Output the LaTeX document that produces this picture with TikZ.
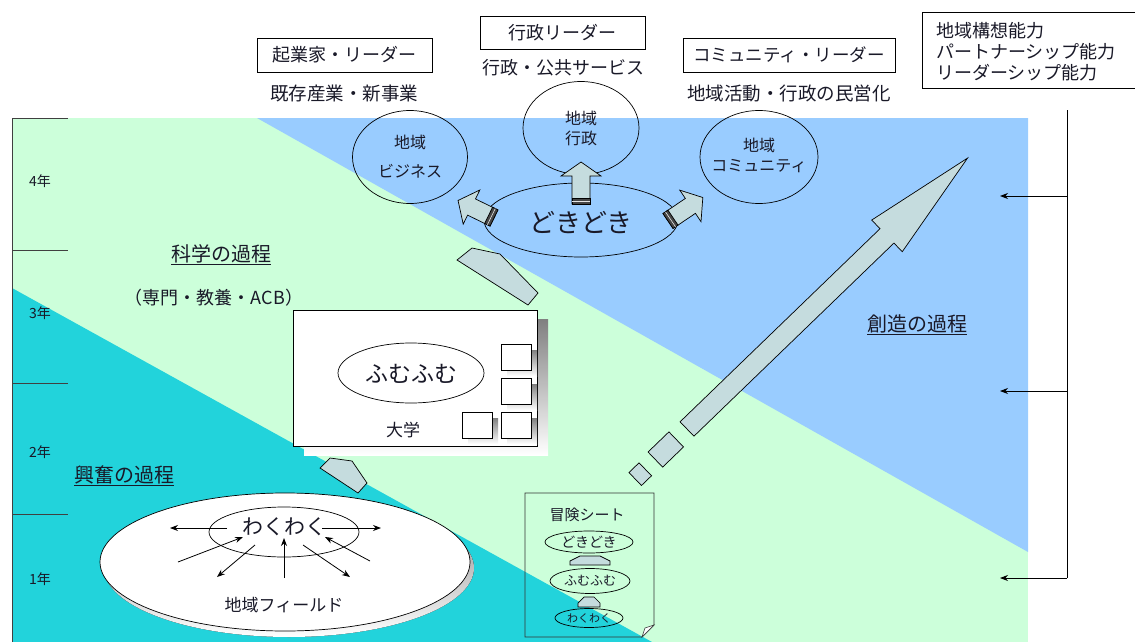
\documentclass[tikz,border=0pt]{standalone}
\usepackage{fontspec}
\setmainfont{Noto Sans CJK JP}
\usetikzlibrary{arrows.meta,shapes.geometric}
\definecolor{mint}{RGB}{204,255,218}
\definecolor{sky}{RGB}{153,204,255}
\definecolor{aqua}{RGB}{34,211,219}
\definecolor{blockfill}{RGB}{197,220,222}
\definecolor{shade}{RGB}{170,170,170}
\definecolor{ink}{RGB}{25,25,40}
\definecolor{band}{RGB}{70,70,70}
\newcommand{\fsz}[2]{\fontsize{#1}{#2}\selectfont}
\newcommand{\blockarrow}[7]{%
  \begin{scope}[shift={(#1,#2)},rotate=#3]
    \filldraw[blk] (0,-#5) -- ({#4-#7},-#5) -- ({#4-#7},-#6) -- (#4,0) -- ({#4-#7},#6) -- ({#4-#7},#5) -- (0,#5) -- cycle;
  \end{scope}}
\newcommand{\bandarrow}[7]{%
  \blockarrow{#1}{#2}{#3}{#4}{#5}{#6}{#7}
  \begin{scope}[shift={(#1,#2)},rotate=#3]
    \filldraw[fill=band,draw=black,line width=0.7pt] (0,-#5) rectangle (6,#5);
    \draw[white!80!gray,line width=0.6pt] (3,-#5) -- (3,#5);
  \end{scope}}
\tikzset{
  lbl/.style={text=ink, inner sep=0pt},
  hbox/.style={draw=black, line width=0.8pt, fill=white, inner sep=0pt, text=ink},
  oval/.style={draw=black, ellipse, line width=0.7pt, inner sep=0pt},
  blk/.style={fill=blockfill, draw=black, line width=0.7pt, line join=miter},
  thinarrow/.style={-{Stealth[length=8pt,width=6pt]}, line width=0.8pt},
  axisline/.style={draw=black!75, line width=0.9pt},
}
\begin{document}
\begin{tikzpicture}[x=1pt,y=-1pt]
\useasboundingbox (0,0) rectangle (1135,642);
% backgrounds
\fill[mint] (12,118) rectangle (1028,642);
\fill[sky] (257,118) -- (1028,118) -- (1028,552) -- cycle;
\fill[aqua] (12,288) -- (652,642) -- (12,642) -- cycle;
% axis
\coordinate (ax0) at (12,118);
\coordinate (ax1) at (12,642);
\draw[axisline] (ax0) -- (ax1);
\foreach \yy in {118,250,383,514} \draw[axisline] (12,\yy) -- (68,\yy);
\node[lbl, font=\fsz{14}{16}] (y4) at (40,181) {4年};
\node[lbl, font=\fsz{14}{16}] (y3) at (40,313) {3年};
\node[lbl, font=\fsz{14}{16}] (y2) at (40,452) {2年};
\node[lbl, font=\fsz{14}{16}] (y1) at (40,579) {1年};
% top boxes
\node[hbox, minimum width=175, minimum height=34, font=\fsz{18}{20}] (kigyo) at (344.5,55) {起業家・リーダー};
\node[lbl, font=\fsz{18.5}{20}] (kizon) at (344,93) {既存産業・新事業};
\node[hbox, minimum width=165, minimum height=33, font=\fsz{18}{20}] (gyosei) at (562.5,32.5) {行政リーダー};
\node[lbl, font=\fsz{18}{20}] (kokyo) at (563,68) {行政・公共サービス};
\node[hbox, minimum width=212, minimum height=34, font=\fsz{17.5}{20}] (comm) at (789,55) {コミュニティ・リーダー};
\node[lbl, font=\fsz{18.5}{20}] (minei) at (789,93) {地域活動・行政の民営化};
\node[hbox, minimum width=214, minimum height=76, anchor=north west] (cap) at (922,12) {};
\node[lbl, font=\fsz{18}{21}, align=left, anchor=west] (captext) at (936,52) {地域構想能力\\パートナーシップ能力\\リーダーシップ能力};
% circles
\node[oval, minimum width=115, minimum height=93] (biz) at (410,157) {};
\node[lbl, font=\fsz{16}{18}] at (410,142) {地域};
\node[lbl, font=\fsz{16}{18}] at (410,171) {ビジネス};
\node[oval, minimum width=116, minimum height=93] (gov) at (581,128) {};
\node[lbl, font=\fsz{16}{18}, align=center] at (581,128) {地域\\[2pt]行政};
\node[oval, minimum width=118, minimum height=93] (com) at (759,157) {};
\node[lbl, font=\fsz{16}{18}, align=center] at (759,155) {地域\\[2pt]コミュニティ};
\node[oval, minimum width=194, minimum height=74] (doki) at (581,220) {};
\node[lbl, font=\fsz{26}{30}] at (581,223) {どきどき};
% arrows from dokidoki
\bandarrow{581}{204}{90}{42}{9}{20}{14}
\bandarrow{494}{218}{154}{40}{9}{19}{15}
\bandarrow{668}{221}{34}{42}{9}{19}{15}
% connector pentagons
\filldraw[blk] (457,260) -- (472,248) -- (500,254) -- (538,293) -- (528,305) -- cycle;
\filldraw[blk] (320,468) -- (330,458) -- (352,461) -- (367,483) -- (358,493) -- cycle;
% university box
\fill[shade] (304,319) rectangle (548,455);
\node[draw=black, line width=0.8pt, fill=white, minimum width=244, minimum height=136, inner sep=0pt] (univ) at (415,378) {};
\foreach \cx/\cy in {516/357,516/391,516/425,477/425}{
  \fill[shade] (\cx-9,\cy-7) rectangle (\cx+21,\cy+19);
  \draw[fill=white, line width=0.7pt] (\cx-15,\cy-13) rectangle (\cx+15,\cy+13);
}
\node[oval, fill=white, minimum width=146, minimum height=60] (fumu) at (411,373) {};
\node[lbl, font=\fsz{23}{26}] at (411,374) {ふむふむ};
\node[lbl, font=\fsz{17}{20}] (daigaku) at (403,430) {大学};
% big arrow
\begin{scope}[shift={(687,429)},rotate=44]
  \filldraw[blk] (-72,-9) rectangle (-58,9);
  \filldraw[blk] (-44,-10.5) rectangle (-15,10.5);
\end{scope}
\blockarrow{687}{429}{44}{390}{10}{22}{112}
% adventure sheet
\filldraw[draw=black!80, line width=0.8pt, fill=none] (525,493) -- (654,493) -- (654,625) -- (642,637) -- (525,637) -- cycle;
\filldraw[draw=black!80, line width=0.6pt, fill=white] (642,637) -- (645,628) -- (654,625) -- cycle;
\node[lbl, font=\fsz{15}{17}] (boken) at (587,515) {冒険シート};
\node[oval, minimum width=88, minimum height=22] (sdoki) at (589,542) {};
\node[lbl, font=\fsz{14}{16}] at (589,542) {どきどき};
\filldraw[blk] (570,565) -- (610,565) -- (610,561) -- (600,556) -- (580,556) -- (570,561) -- cycle;
\node[oval, minimum width=80, minimum height=25] (sfumu) at (590,581) {};
\node[lbl, font=\fsz{13}{15}] at (590,581) {ふむふむ};
\filldraw[blk] (578,607) -- (600,607) -- (600,603) -- (594,597) -- (584,597) -- (578,603) -- cycle;
\node[oval, minimum width=68, minimum height=19] (swaku) at (589,618) {};
\node[lbl, font=\fsz{11}{13}] at (589,618) {わくわく};
% field ellipse
\fill[shade] (289,568) ellipse [x radius=185, y radius=69];
\node[oval, fill=white, minimum width=370, minimum height=138] (field) at (285,562) {};
\node[oval, minimum width=150, minimum height=50] (waku) at (284,532) {};
\node[lbl, font=\fsz{21}{24}, fill=white, inner xsep=2pt] (wakutext) at (284,527) {わくわく};
\node[lbl, font=\fsz{17}{20}] (fieldtext) at (284,605) {地域フィールド};
\coordinate (wl0) at (227,528); \coordinate (wl1) at (170,528);
\coordinate (wr0) at (322,528); \coordinate (wr1) at (381,528);
\coordinate (a1s) at (178,562); \coordinate (a1e) at (243,537);
\coordinate (a2s) at (255,545); \coordinate (a2e) at (217,577);
\coordinate (a3s) at (284,578); \coordinate (a3e) at (284,538);
\coordinate (a4s) at (303,545); \coordinate (a4e) at (350,577);
\coordinate (a5s) at (370,561); \coordinate (a5e) at (325,537);
\foreach \s/\e in {wl0/wl1,wr0/wr1,a1s/a1e,a2s/a2e,a3s/a3e,a4s/a4e,a5s/a5e}
  \draw[thinarrow] (\s) -- (\e);
% right bracket
\coordinate (br0) at (1067,110);
\coordinate (br1) at (1067,578);
\draw[line width=0.8pt] (br0) -- (br1);
\foreach \yy [count=\i] in {196,391,578}{
  \coordinate (bs\i) at (1067,\yy);
  \coordinate (be\i) at (1000,\yy);
  \draw[-{Stealth[length=8pt,width=6pt]}, line width=0.8pt] (bs\i) -- (be\i);
}
% process labels
\node[lbl, font=\fsz{20}{22}] (kagaku) at (221,255) {\underline{科学の過程}};
\node[lbl, font=\fsz{18}{20}] (senmon) at (214,298) {（専門・教養・ACB）};
\node[lbl, font=\fsz{20}{22}] (kofun) at (124,476) {\underline{興奮の過程}};
\node[lbl, font=\fsz{20}{22}] (sozo) at (917,325) {\underline{創造の過程}};
\end{tikzpicture}
\end{document}
